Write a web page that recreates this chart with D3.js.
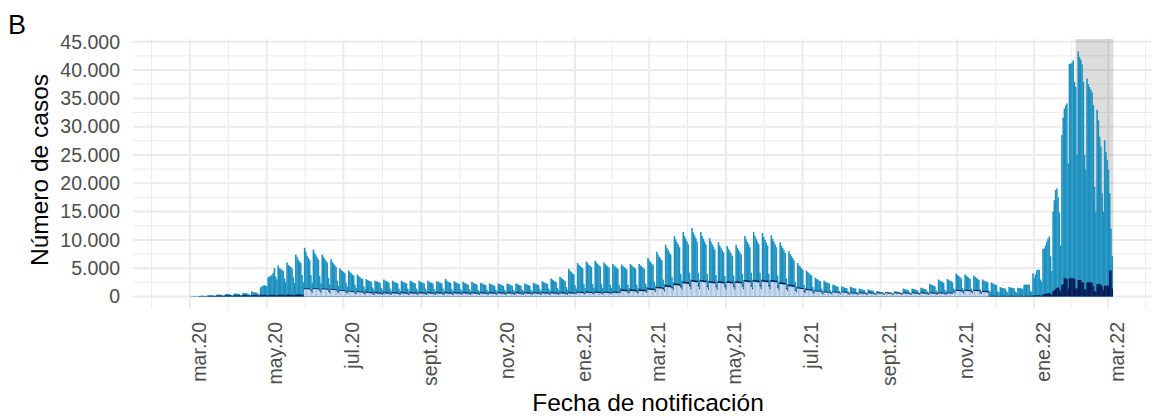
<!DOCTYPE html>
<html><head><meta charset="utf-8">
<script src="https://cdn.jsdelivr.net/npm/d3@7"></script>
<style>body{margin:0;background:#fff}svg{display:block}text{font-family:"Liberation Sans",Arial,sans-serif}</style>
</head><body><svg id="chart" width="1161" height="418"></svg>
<script>
// ---- DATA (daily, starting 2020-02-28, one row = 7 days) ----
const startDate = "2020-02-28";
const totalRows = [
[0,0,20,40,60,80,60],[50,40,100,120,150,150,120],[100,80,200,220,250,250,200],[150,120,300,350,350,300,300],
[200,150,400,450,450,400,350],[250,200,500,550,500,500,450],[300,250,650,600,600,550,500],[350,300,900,800,750,700,650],
[500,400,1600,1800,1900,2000,1900],[1800,3400,3500,3600,3800,4200,5000],[3500,3000,5500,5000,4900,4700,4500],[3200,2500,6000,5600,5400,5200,5000],
[3500,2400,7400,7000,6500,6200,5900],[3800,2500,8600,7900,7200,6800,6400],[3800,2400,8300,7700,7300,6900,6500],[3600,2300,7400,7000,6600,6300,6000],
[3300,2100,6600,6100,5800,5500,5200],[2800,1900,5000,4700,4500,4300,4100],[2400,1700,4600,4300,4100,3900,3700],[2100,1500,3900,3600,3400,3200,3100],
[1800,1300,3100,2900,2800,2700,2600],[1600,1200,2800,2700,2600,2500,2400],[1500,1100,3000,2800,2700,2600,2400],[1400,1000,2800,2600,2500,2400,2300],
[1400,1000,2800,2600,2500,2400,2300],[1400,1000,2800,2700,2500,2400,2300],[1400,1000,2800,2600,2500,2400,2300],[1400,1000,2800,2600,2500,2400,2300],
[1300,1000,2700,2600,2500,2400,2300],[1400,1000,3100,2800,2600,2500,2400],[1300,1000,2700,2500,2400,2300,2200],[1300,1000,2600,2400,2300,2200,2100],
[1300,1000,2600,2400,2300,2200,2100],[1200,900,2400,2300,2200,2100,2000],[1200,900,2300,2200,2100,2000,1900],[1200,900,2300,2200,2100,2000,1900],
[1200,900,2300,2200,2100,2000,1900],[1200,900,2300,2200,2100,2000,1900],[1200,900,2300,2200,2100,2000,1900],[1200,900,2400,2300,2200,2100,2000],
[1300,1000,2700,2500,2400,2300,2200],[1400,1000,3200,3000,2800,2700,2500],[1500,1100,3500,3300,3100,2900,2700],[1700,1200,4900,4500,4300,4100,3900],
[2000,1400,5900,5600,5400,5200,5000],[2200,1500,6200,5900,5600,5400,5200],[2200,1500,6300,6000,5700,5500,5300],[2200,1500,6000,5700,5500,5300,5100],
[2100,1500,5750,5500,5300,5100,4900],[2100,1500,5650,5400,5200,5000,4800],[2100,1500,5750,5500,5300,5100,4900],[2100,1500,5750,5500,5300,5100,4900],
[2300,1700,6800,6400,6100,5800,5600],[2600,1900,7900,7400,7000,6700,6400],[3000,2200,9150,8600,8200,7800,7400],[3500,2500,10700,10100,9600,9200,8700],
[4000,2800,11400,10700,10200,9700,9200],[4200,3000,12100,11300,10800,10300,9700],[4200,3000,11400,10700,10200,9700,9200],[4000,2800,10300,9700,9200,8800,8300],
[3800,2700,9600,9000,8600,8200,7800],[3600,2600,8900,8400,8000,7600,7200],[3700,2700,9150,8600,8200,7800,7400],[4000,2900,10700,10100,9600,9200,8700],
[4200,3000,11400,10700,10200,9700,9200],[4200,3000,11200,10500,10000,9500,9000],[4000,2900,10800,10200,9700,9200,8700],[3700,2600,9600,9000,8600,8200,7700],
[3200,2200,8000,7500,7100,6800,6400],[2600,1800,5900,5500,5300,5000,4700],[2100,1500,4600,4300,4100,3900,3700],[1700,1200,3300,3100,3000,2800,2700],
[1400,1000,2800,2600,2500,2400,2300],[1100,800,2100,2000,1900,1800,1700],[1000,700,1800,1700,1600,1500,1450],[900,650,1700,1600,1500,1450,1400],
[800,600,1400,1300,1250,1200,1150],[700,550,1250,1150,1100,1050,1000],[600,500,950,900,850,800,780],[550,450,820,800,780,750,700],
[550,450,940,900,850,800,780],[650,500,1400,1300,1250,1200,1100],[700,550,1400,1300,1250,1200,1100],[750,600,1550,1450,1400,1300,1250],
[900,700,2250,2100,2000,1900,1800],[1100,800,3000,2800,2700,2600,2400],[1200,900,3100,2900,2800,2700,2500],[1400,1000,4050,3800,3600,3400,3200],
[1500,1100,3900,3700,3500,3300,3100],[1400,1000,3700,3500,3300,3100,2900],[1300,900,3000,2800,2700,2600,2500],[1100,800,2500,2300,2200,2100,2000],
[900,700,1650,1550,1500,1450,1400],[900,700,1700,1600,1550,1500,1450],[900,700,1550,1500,1450,1400,1350],[2100,2100,2100,2100,2100,1000,800],
[4100,3300,3900,4600,4750,4700,3000],[2600,8400,8500,9000,9700,10200,10600],[7100,4500,15000,17000,18800,19100,17500],[14800,9000,28500,31600,33200,33700,34100],
[23500,41100,41100,41300,41700,37900,37000],[25000,43300,42300,41800,41000,37900,25000],[22400,38500,37500,37000,36500,36000,33800],[19400,15000,33000,31100,28200,26500,18200],
[15000,27600,25500,24100,22400,18200,12000],[7100]
];
const navyRows = [
[0,0,0,10,20,20,20],[20,20,50,50,50,50,50],[50,50,100,100,100,100,100],[100,80,150,150,150,150,150],
[100,80,200,200,200,200,200],[120,100,200,200,200,200,200],[120,100,250,250,250,200,200],[150,120,250,250,250,250,250],
[150,120,300,300,300,300,300],[200,150,300,300,300,300,300],[200,150,300,300,300,300,300],[200,150,350,350,300,300,300],
[250,200,350,350,350,350,350],[300,250,1400,1450,1450,1400,1400],[1100,800,1450,1450,1450,1400,1400],[1100,800,1400,1400,1400,1350,1350],
[1000,750,1350,1300,1300,1300,1250],[900,700,1150,1150,1100,1100,1050],[800,600,1000,1000,950,950,900],[700,550,900,900,850,850,850],
[650,500,850,850,800,800,800],[550,450,750,750,700,700,700],[550,450,750,750,700,700,700],[550,450,750,750,700,700,700],
[550,450,750,750,700,700,700],[550,450,750,750,700,700,700],[550,450,750,750,700,700,700],[550,450,750,750,700,700,700],
[550,450,750,750,700,700,700],[550,450,750,750,700,700,700],[550,450,750,750,700,700,700],[550,450,750,750,700,700,700],
[550,450,750,750,700,700,700],[550,450,750,750,700,700,700],[550,450,750,750,700,700,700],[550,450,750,750,700,700,700],
[550,450,750,750,700,700,700],[550,450,750,750,700,700,700],[550,450,750,750,700,700,700],[550,450,750,750,700,700,700],
[550,450,750,750,700,700,700],[550,450,750,750,700,700,700],[550,450,750,750,700,700,700],[550,450,750,750,700,700,700],
[650,500,850,850,850,800,800],[650,500,850,850,850,800,800],[650,500,850,850,850,800,800],[650,500,850,850,850,800,800],
[650,500,850,850,850,800,800],[900,700,1250,1250,1200,1200,1200],[900,700,1250,1250,1200,1200,1200],[900,700,1250,1250,1200,1200,1200],
[1100,800,1450,1450,1400,1400,1400],[1300,950,1700,1700,1650,1650,1650],[1500,1100,2000,2000,1950,1950,1900],[1700,1300,2300,2300,2250,2250,2200],
[1900,1400,2600,2600,2550,2550,2500],[2100,1500,2900,2900,2850,2800,2800],[2100,1500,2900,2900,2850,2800,2800],[1900,1400,2700,2700,2650,2600,2600],
[1900,1400,2700,2700,2650,2600,2600],[1900,1400,2700,2700,2650,2600,2600],[1900,1400,2700,2700,2650,2600,2600],[2000,1500,2900,2900,2850,2800,2800],
[2000,1500,2900,2900,2850,2800,2800],[2000,1500,2900,2900,2850,2800,2800],[2000,1500,2900,2900,2850,2800,2800],[1800,1300,2500,2500,2450,2400,2400],
[1500,1100,2100,2100,2050,2000,2000],[1150,850,1600,1600,1550,1500,1500],[950,700,1300,1300,1250,1250,1200],[800,600,1050,1050,1000,1000,1000],
[650,500,850,850,850,800,800],[650,500,850,850,850,800,800],[650,500,850,850,850,800,800],[550,450,700,700,700,650,650],
[550,450,700,700,700,650,650],[550,450,700,700,700,650,650],[550,450,700,700,700,650,650],[550,450,700,700,700,650,650],
[550,450,700,700,700,650,650],[550,450,700,700,700,650,650],[550,450,700,700,700,650,650],[550,450,700,700,700,650,650],
[550,450,700,700,700,650,650],[550,450,700,700,700,650,650],[550,450,700,700,700,650,650],[900,700,1200,1200,1150,1150,1100],
[900,700,1200,1200,1150,1150,1100],[900,700,1200,1200,1150,1150,1100],[750,550,1000,1000,950,950,900],[80,60,120,120,120,120,120],
[80,60,120,120,120,120,120],[80,60,120,120,120,120,120],[80,60,120,120,120,120,120],[80,60,120,120,120,120,120],
[150,150,200,200,250,250,150],[150,350,400,450,500,550,600],[400,300,900,1100,1300,1500,1600],[1300,900,2000,2200,3200,3200,3100],
[1400,3200,3200,3300,3200,3100,1300],[1500,2900,2900,2900,2500,2500,1300],[1200,2500,2500,2500,2500,2400,1800],[1000,900,2200,2200,2200,2100,1800],
[1100,1900,1900,1900,1900,4600,4600],[1400]
];
const lightRows = [
[0,0,0,0,0,0,0],[0,0,0,0,0,0,0],[0,0,0,0,0,0,0],[0,0,0,0,0,0,0],
[0,0,0,0,0,0,0],[0,0,0,0,0,0,0],[0,0,0,0,0,0,0],[0,0,0,0,0,0,0],
[0,0,0,0,0,0,0],[0,0,0,0,0,0,0],[0,0,0,0,0,0,0],[0,0,0,0,0,0,0],
[0,0,0,0,0,0,0],[0,0,1250,1300,1300,1250,1250],[950,650,1300,1300,1300,1250,1250],[950,650,1250,1250,1250,1200,1200],
[850,600,1200,1150,1150,1150,1100],[750,550,1000,1000,950,950,900],[650,500,850,850,800,800,750],[550,450,750,750,700,700,700],
[500,400,650,650,650,600,600],[400,300,550,550,500,500,500],[400,300,550,550,500,500,500],[400,300,550,550,500,500,500],
[400,300,550,550,500,500,500],[400,300,550,550,500,500,500],[400,300,550,550,500,500,500],[400,300,550,550,500,500,500],
[400,300,550,550,500,500,500],[400,300,550,550,500,500,500],[400,300,550,550,500,500,500],[400,300,550,550,500,500,500],
[400,300,550,550,500,500,500],[400,300,550,550,500,500,500],[400,300,550,550,500,500,500],[400,300,550,550,500,500,500],
[400,300,550,550,500,500,500],[400,300,550,550,500,500,500],[400,300,550,550,500,500,500],[400,300,550,550,500,500,500],
[400,300,550,550,500,500,500],[400,300,550,550,500,500,500],[400,300,550,550,500,500,500],[400,300,550,550,500,500,500],
[500,400,650,650,650,600,600],[500,400,650,650,650,600,600],[500,400,650,650,650,600,600],[500,400,650,650,650,600,600],
[500,400,650,650,650,600,600],[700,550,950,950,950,900,900],[700,550,950,950,950,900,900],[700,550,950,950,950,900,900],
[900,650,1200,1200,1150,1150,1150],[1100,800,1450,1450,1400,1400,1400],[1250,900,1700,1700,1650,1650,1600],[1450,1100,2000,2000,1950,1950,1900],
[1600,1200,2300,2300,2250,2250,2200],[1800,1300,2600,2600,2550,2500,2500],[1800,1300,2600,2600,2550,2500,2500],[1650,1200,2400,2400,2350,2300,2300],
[1650,1200,2400,2400,2350,2300,2300],[1650,1200,2400,2400,2350,2300,2300],[1650,1200,2400,2400,2350,2300,2300],[1750,1300,2600,2600,2550,2500,2500],
[1750,1300,2600,2600,2550,2500,2500],[1750,1300,2600,2600,2550,2500,2500],[1750,1300,2600,2600,2550,2500,2500],[1550,1150,2200,2200,2150,2100,2100],
[1300,950,1800,1800,1750,1700,1700],[1000,750,1400,1400,1350,1300,1300],[800,600,1100,1100,1050,1050,1000],[650,500,900,900,850,850,850],
[550,400,700,700,700,650,650],[550,400,700,700,700,650,650],[550,400,700,700,700,650,650],[400,300,550,550,500,500,500],
[400,300,550,550,500,500,500],[400,300,550,550,500,500,500],[400,300,550,550,500,500,500],[400,300,550,550,500,500,500],
[400,300,550,550,500,500,500],[400,300,550,550,500,500,500],[400,300,550,550,500,500,500],[400,300,550,550,500,500,500],
[400,300,550,550,500,500,500],[400,300,550,550,500,500,500],[400,300,550,550,500,500,500],[750,550,1000,1000,950,950,900],
[750,550,1000,1000,950,950,900],[750,550,1000,1000,950,950,900],[600,450,800,800,750,750,700],[0,0,0,0,0,0,0],
[0,0,0,0,0,0,0],[0,0,0,0,0,0,0],[0,0,0,0,0,0,0],[0,0,0,0,0,0,0],
[0,0,0,0,0,0,0],[0,0,0,0,0,0,0],[0,0,0,0,0,0,0],[0,0,0,0,0,0,0],
[0,0,0,0,0,0,0],[0,0,0,0,0,0,0],[0,0,0,0,0,0,0],[0,0,0,0,0,0,0],
[0,0,0,0,0,0,0],[0]
];
const yTicks = [0,5000,10000,15000,20000,25000,30000,35000,40000,45000];
const xTickDates = ["2020-03-01","2020-05-01","2020-07-01","2020-09-01","2020-11-01","2021-01-01","2021-03-01","2021-05-01","2021-07-01","2021-09-01","2021-11-01","2022-01-01","2022-03-01"];
const xTickLabels = ["mar.20","may.20","jul.20","sept.20","nov.20","ene.21","mar.21","may.21","jul.21","sept.21","nov.21","ene.22","mar.22"];
const shadeRange = ["2022-02-03","2022-03-05"];
const colors = {total:"#1d91c0", navy:"#081d58", light:"#c6dbef"};

// ---- CHART ----
const totalCases = totalRows.flat(), navyCases = navyRows.flat(), lightCases = lightRows.flat();
const parse = d3.timeParse("%Y-%m-%d");
const t0 = parse(startDate);
const days = totalCases.map((v,i)=>d3.timeDay.offset(t0,i));
const panel = {left:133,right:1152,top:39,bottom:309};
const svg = d3.select("#chart");
const x = d3.scaleTime().domain([parse("2020-03-01"),parse("2022-03-01")]).range([190,1108.3]);
const y = d3.scaleLinear().domain([0,45000]).range([296.5,41.7]);
const loc = d3.formatLocale({decimal:",",thousands:".",grouping:[3],currency:["",""]});
const fmt = loc.format(",");

const grid = svg.append("g");
d3.range(2500,45000,5000).forEach(v=>grid.append("line").attr("x1",panel.left).attr("x2",panel.right).attr("y1",y(v)).attr("y2",y(v)).attr("stroke","#ebebeb").attr("stroke-width",1));
const majors = xTickDates.map(parse);
const minors = [];
for(let i=0;i<majors.length-1;i++) minors.push(new Date((+majors[i]+ +majors[i+1])/2));
minors.unshift(new Date(+majors[0]-(+majors[1]-+majors[0])/2));
minors.push(new Date(+majors[majors.length-1]+(+majors[majors.length-1]-+majors[majors.length-2])/2));
minors.forEach(d=>grid.append("line").attr("x1",x(d)).attr("x2",x(d)).attr("y1",panel.top).attr("y2",panel.bottom).attr("stroke","#ebebeb").attr("stroke-width",1));
yTicks.forEach(v=>grid.append("line").attr("x1",panel.left).attr("x2",panel.right).attr("y1",y(v)).attr("y2",y(v)).attr("stroke","#ebebeb").attr("stroke-width",2));
majors.forEach(d=>grid.append("line").attr("x1",x(d)).attr("x2",x(d)).attr("y1",panel.top).attr("y2",panel.bottom).attr("stroke","#ebebeb").attr("stroke-width",2));

svg.append("rect").attr("x",x(parse(shadeRange[0]))).attr("width",x(parse(shadeRange[1]))-x(parse(shadeRange[0])))
  .attr("y",panel.top).attr("height",y(0)-panel.top).attr("fill","#000").attr("fill-opacity",0.135);

const dayW = x(d3.timeDay.offset(t0,1))-x(t0);
function bars(vals,color){
  svg.append("g").selectAll("rect").data(vals.map((v,i)=>({d:days[i],v}))).join("rect")
    .attr("x",p=>x(p.d)-dayW/2).attr("width",dayW+0.3)
    .attr("y",p=>y(p.v)).attr("height",p=>Math.max(0,y(0)-y(p.v)))
    .attr("fill",color);
}
bars(totalCases,colors.total);
bars(navyCases,colors.navy);
bars(lightCases,colors.light);

const tickFont = 19.5;
yTicks.forEach(v=>svg.append("text").attr("x",120).attr("y",y(v)).attr("dy","0.35em").attr("text-anchor","end")
  .attr("font-size",tickFont).attr("fill","#4d4d4d").text(fmt(v)));
majors.forEach((d,i)=>svg.append("text").attr("transform",`translate(${x(d)},322) rotate(-90)`).attr("dy","0.8em")
  .attr("text-anchor","end").attr("font-size",tickFont).attr("fill","#4d4d4d").text(xTickLabels[i]));
svg.append("text").attr("x",648).attr("y",411).attr("text-anchor","middle").attr("font-size",24.5).attr("fill","#000").text("Fecha de notificación");
svg.append("text").attr("transform","translate(48,170) rotate(-90)").attr("text-anchor","middle").attr("font-size",24.5).attr("fill","#000").text("Número de casos");
svg.append("text").attr("x",8).attr("y",34).attr("font-size",27).attr("fill","#000").text("B");
</script></body></html>
